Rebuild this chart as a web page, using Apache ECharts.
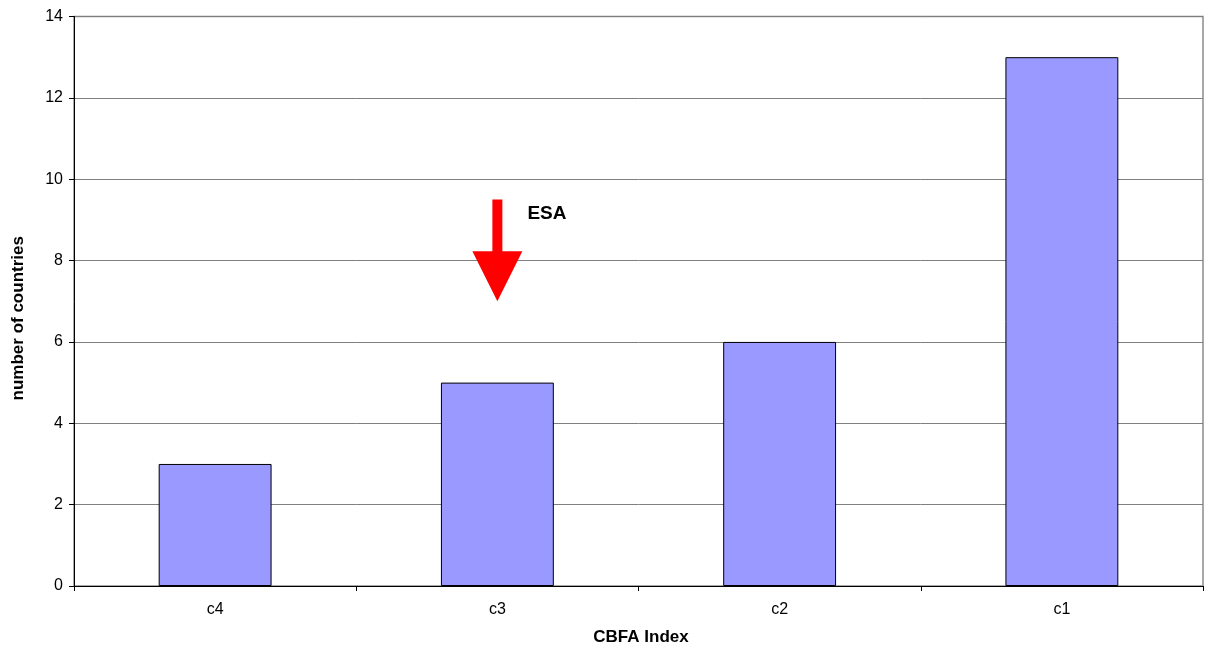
<!DOCTYPE html>
<html>
<head>
<meta charset="utf-8">
<script src="https://cdn.jsdelivr.net/npm/echarts@6/dist/echarts.min.js"></script>
<style>
  html, body { margin: 0; padding: 0; background: #fff; }
  #chart { width: 1207px; height: 652px; }
</style>
</head>
<body>
<div id="chart"></div>
<script>
// CBFA index classes and the number of countries in each
const categories = ['c4', 'c3', 'c2', 'c1'];
const countries = [3, 5, 6, 13];
const yTicks = [0, 2, 4, 6, 8, 10, 12, 14];

// Marker arrow: category, tip value, tail value, label
const arrowCategory = 'c3';
const arrowTip = 7;
const arrowTail = 9.5;
const arrowLabel = 'ESA';

const font = 'Liberation Sans, Arial, sans-serif';
const chart = echarts.init(document.getElementById('chart'));

chart.setOption({
  animation: false,
  backgroundColor: '#ffffff',
  grid: {
    left: 74, right: 4, top: 16.5, bottom: 66,
    containLabel: false,
    outerBoundsMode: 'none',
    show: true, borderColor: '#8c8c8c', borderWidth: 1.5
  },
  xAxis: {
    type: 'category',
    data: categories,
    name: 'CBFA Index',
    nameLocation: 'middle',
    nameGap: 43,
    nameTextStyle: {
      fontFamily: font, fontSize: 17, fontWeight: 'bold', color: '#000',
      padding: [0, 0, 0, 5]
    },
    axisLine: { lineStyle: { color: '#000', width: 1 } },
    axisTick: { show: true, length: 5, lineStyle: { color: '#000' } },
    axisLabel: { fontFamily: font, fontSize: 16, color: '#000', margin: 16 }
  },
  yAxis: {
    type: 'value',
    min: yTicks[0],
    max: yTicks[yTicks.length - 1],
    interval: 2,
    name: 'number of countries',
    nameLocation: 'middle',
    nameGap: 47,
    nameTextStyle: {
      fontFamily: font, fontSize: 17, fontWeight: 'bold', color: '#000',
      padding: [0, 34, 0, 0]
    },
    axisLine: { show: true, lineStyle: { color: '#000', width: 1 } },
    axisTick: { show: true, length: 5, lineStyle: { color: '#000' } },
    axisLabel: { fontFamily: font, fontSize: 16, color: '#000', margin: 11 },
    splitLine: { show: true, lineStyle: { color: '#7f7f7f', width: 1 } }
  },
  series: [
    {
      type: 'bar',
      data: countries,
      barWidth: '40%',
      itemStyle: { color: '#9999ff', borderColor: '#000', borderWidth: 1 }
    },
    {
      type: 'custom',
      data: [[arrowCategory, arrowTip, arrowTail]],
      encode: { x: 0, y: 1 },
      z: 10,
      renderItem: function (params, api) {
        const tip = api.coord([api.value(0), api.value(1)]);
        const tail = api.coord([api.value(0), api.value(2)]);
        const x = tip[0];
        const headLen = 50, headHalf = 25, shaftHalf = 5;
        const headTop = tip[1] - headLen;
        return {
          type: 'group',
          children: [
            {
              type: 'polygon',
              shape: {
                points: [
                  [x - shaftHalf, tail[1]], [x + shaftHalf, tail[1]],
                  [x + shaftHalf, headTop], [x + headHalf, headTop],
                  [x, tip[1]],
                  [x - headHalf, headTop], [x - shaftHalf, headTop]
                ]
              },
              style: { fill: '#ff0000', stroke: null }
            },
            {
              type: 'text',
              style: {
                x: x + 30, y: tail[1] + 14,
                text: arrowLabel,
                fill: '#000',
                font: 'bold 19px ' + font,
                textAlign: 'left', textVerticalAlign: 'middle'
              }
            }
          ]
        };
      }
    }
  ]
});
</script>
</body>
</html>
